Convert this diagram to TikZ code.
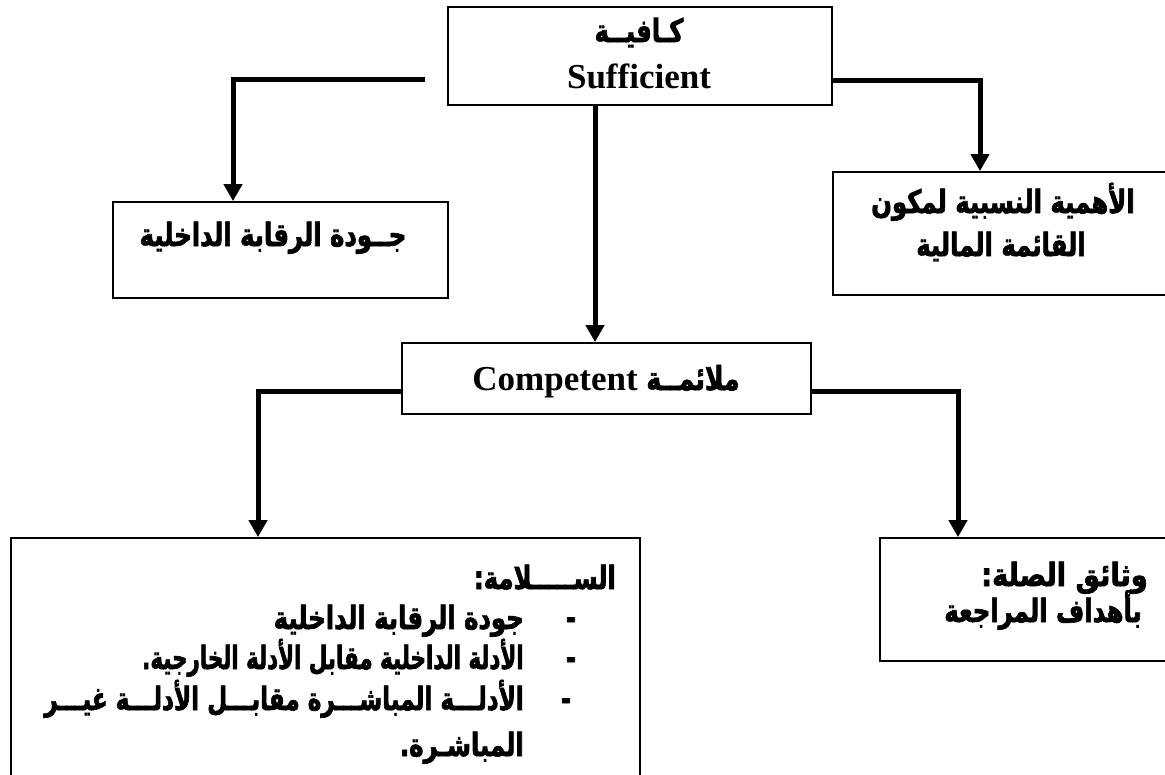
\documentclass[tikz,border=0pt]{standalone}
\usepackage{fontspec}
\usepackage{graphicx}
\setmainfont{Liberation Serif}
\newfontfamily\arabicfont[Script=Arabic, FakeStretch=0.76, BoldFeatures={FakeBold=2}]{DejaVu Sans}
\TeXXeTstate=1
\usetikzlibrary{arrows.meta,calc}
\newcommand\AR[1]{{\arabicfont\bfseries\beginR #1\endR}}
\begin{document}
\begin{tikzpicture}[x=1pt,y=-1pt,
  box/.style={draw, line width=1.8pt, inner sep=0pt},
  conn/.style={line width=5pt, -{Triangle[width=18pt,length=17pt]}},
  artext/.style={inner sep=0pt, font=\fontsize{32}{36}\selectfont},
  entext/.style={inner sep=0pt, font=\fontsize{35}{40}\selectfont\bfseries}]
\useasboundingbox (0,0) rectangle (1165,774);
\clip (0,0) rectangle (1165,774);
% boxes
\node[box, minimum width=384pt, minimum height=98pt] (top) at (640,56) {};
\node[box, minimum width=335pt, minimum height=96pt] (lbox) at (280.5,250) {};
\node[box, minimum width=347pt, minimum height=123pt] (rbox) at (1006.5,233.5) {};
\node[box, minimum width=409pt, minimum height=71pt] (mid) at (606.5,378.5) {};
\node[box, minimum width=629pt, minimum height=250pt] (blbox) at (325.5,663) {};
\node[box, minimum width=300pt, minimum height=123pt] (brbox) at (1030,599.5) {};
% texts
\node[artext, anchor=base] (t1) at (639,42) {\AR{كـافيــة}};
\node[entext, anchor=base] (t2) at (639,88) {Sufficient};
\node[artext, anchor=base] (t3) at (273,246) {\AR{جــودة الرقابة الداخلية}};
\node[artext, anchor=base] (t4) at (1003,213) {\AR{الأهمية النسبية لمكون}};
\node[artext, anchor=base] (t5) at (1001,256) {\AR{القائمة المالية}};
\node[inner sep=0pt, anchor=base] (t6) at (606,390) {{\fontsize{35}{40}\selectfont\bfseries\beginR{\arabicfont\fontsize{33}{36}\selectfont ملائمــة} \beginL Competent\endL\endR}};
\node[artext, anchor=base east] (t7) at (1148,586) {\scalebox{1.12}[1]{\AR{وثائق الصلة:}}};
\node[artext, anchor=base east] (t8) at (1142,622) {\AR{بأهداف المراجعة}};
\node[artext, anchor=base east] (b1) at (616,589) {\AR{الســـــلامة:}};
\node[artext, anchor=base east] (b2) at (524,629) {\AR{جودة الرقابة الداخلية}};
\node[artext, anchor=base east] (b3) at (524,669) {\scalebox{0.88}[1]{\AR{الأدلة الداخلية مقابل الأدلة الخارجية.}}};
\node[artext, anchor=base east] (b4) at (524,710) {\scalebox{0.95}[1]{\AR{الأدلـــة المباشـــرة مقابـــل الأدلـــة غيـــر}}};
\node[artext, anchor=base east] (b5) at (524,756) {\AR{المباشـرة.}};
\node[artext, anchor=base] (d2) at (571,629) {\AR{-}};
\node[artext, anchor=base] (d3) at (571,669) {\AR{-}};
\node[artext, anchor=base] (d4) at (566,710) {\AR{-}};
% connectors
\coordinate (la) at (425,79);
\draw[conn] (la) -| ([xshift=-47.5pt]lbox.north);
\draw[conn] ([xshift=-45pt]top.south) -- ([xshift=-11.5pt]mid.north);
\draw[conn] ([yshift=-24pt]top.east) -| ([xshift=-26.5pt]rbox.north);
\draw[conn] ([yshift=-12.5pt]mid.west) -| ([xshift=-67.5pt]blbox.north);
\draw[conn] ([yshift=-12.5pt]mid.east) -| ([xshift=-72pt]brbox.north);
\end{tikzpicture}
\end{document}
